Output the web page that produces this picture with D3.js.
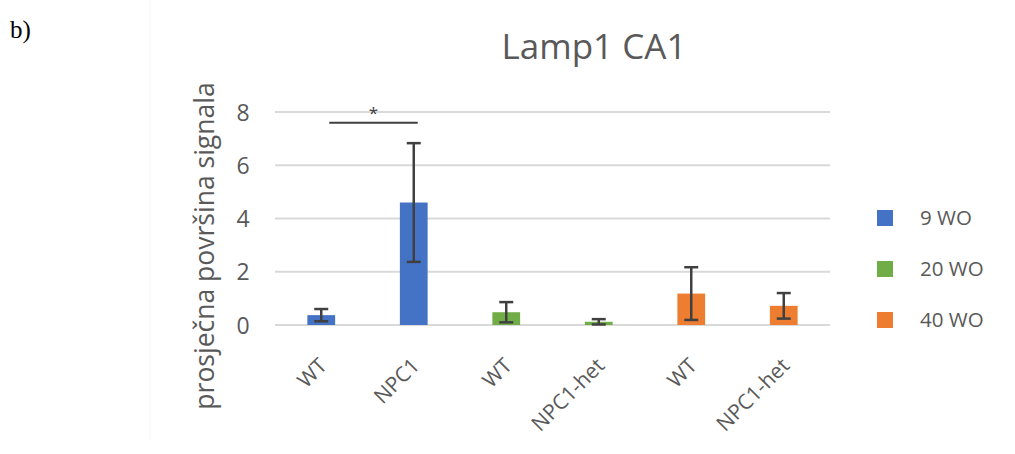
<!DOCTYPE html>
<html>
<head>
<meta charset="utf-8">
<script src="https://cdn.jsdelivr.net/npm/d3@7"></script>
<style>
  body { margin: 0; background: #fff; }
  text { font-family: "Open Sans", "Noto Sans", sans-serif; }
</style>
</head>
<body>
<div id="chart"></div>
<script>
// Data_____________________________________
const categories = ["WT", "NPC1", "WT", "NPC1-het", "WT", "NPC1-het"];
const groups = ["9 WO", "9 WO", "20 WO", "20 WO", "40 WO", "40 WO"];
const values = [0.37, 4.6, 0.48, 0.12, 1.18, 0.72];
const errors = [0.23, 2.23, 0.38, 0.1, 0.99, 0.48];
const yTicks = [0, 2, 4, 6, 8];
const legendLabels = ["9 WO", "20 WO", "40 WO"];
const legendColors = ["#4472C4", "#70AD47", "#ED7D31"];

const width = 1015;
const height = 454;
const plot = {left: 275, right: 830, top: 112, bottom: 325};

const svg = d3.select('#chart')
    .append('svg')
    .attr('width', width)
    .attr('height', height);

// faint chart area border
svg.append('line')
    .attr('x1', 150).attr('x2', 150)
    .attr('y1', 0).attr('y2', 440)
    .attr('stroke', '#f5f5f5');

svg.append('text')
    .attr('x', 10).attr('y', 38)
    .style('font-family', '"Liberation Serif", serif')
    .style('font-size', '25px')
    .attr('fill', '#000')
    .text('b)');

// Scales_____________________________________
const xScale = d3.scaleBand()
    .domain(d3.range(categories.length))
    .range([plot.left, plot.right])
    .paddingInner(0.7)
    .paddingOuter(0.35);
const yScale = d3.scaleLinear()
    .domain([0, 8])
    .range([plot.bottom, plot.top]);
const color = d3.scaleOrdinal().domain(legendLabels).range(legendColors);

// Gridlines
svg.append('g')
    .selectAll('line')
    .data(yTicks)
    .enter()
    .append('line')
    .attr('x1', plot.left)
    .attr('x2', plot.right)
    .attr('y1', d => yScale(d))
    .attr('y2', d => yScale(d))
    .attr('stroke', '#d9d9d9')
    .attr('stroke-width', 2);

// Y axis
const yAxis = d3.axisLeft(yScale).tickValues(yTicks).tickSize(0).tickPadding(0);
const yg = svg.append('g')
    .attr('transform', `translate(243, 0)`)
    .call(yAxis);
yg.select('.domain').remove();
yg.selectAll('text')
    .style('font-size', '23px')
    .attr('fill', '#595959')
    .attr('text-anchor', 'middle')
    .attr('dy', '0.35em');

// X axis
const xAxis = d3.axisBottom(xScale).tickSize(0).tickFormat(i => categories[i]);
const xg = svg.append('g')
    .attr('transform', `translate(0, ${plot.bottom})`)
    .call(xAxis);
xg.select('.domain').remove();
xg.selectAll('text')
    .style('font-size', '21px')
    .attr('fill', '#595959')
    .attr('text-anchor', 'end')
    .attr('dy', 0)
    .attr('y', 0)
    .attr('transform', 'translate(7, 42) rotate(-45)');

// Bars
svg.append('g')
    .selectAll('rect')
    .data(values)
    .enter()
    .append('rect')
    .attr('x', (d, i) => xScale(i))
    .attr('y', d => yScale(d))
    .attr('width', xScale.bandwidth())
    .attr('height', d => yScale(0) - yScale(d))
    .attr('fill', (d, i) => color(groups[i]));

// Error bars
const eg = svg.append('g')
    .attr('stroke', '#404040')
    .attr('stroke-width', 2.5);
values.forEach((v, i) => {
    const cx = xScale(i) + xScale.bandwidth() / 2;
    const lo = Math.max(0, v - errors[i]);
    const hi = v + errors[i];
    eg.append('line').attr('x1', cx).attr('x2', cx).attr('y1', yScale(lo)).attr('y2', yScale(hi));
    eg.append('line').attr('x1', cx - 7).attr('x2', cx + 7).attr('y1', yScale(lo)).attr('y2', yScale(lo));
    eg.append('line').attr('x1', cx - 7).attr('x2', cx + 7).attr('y1', yScale(hi)).attr('y2', yScale(hi));
});

// Significance bracket
const sx1 = xScale(0) + xScale.bandwidth() / 2 + 8;
const sx2 = xScale(1) + xScale.bandwidth() / 2 + 4;
svg.append('line')
    .attr('x1', sx1).attr('x2', sx2)
    .attr('y1', yScale(7.6)).attr('y2', yScale(7.6))
    .attr('stroke', '#404040')
    .attr('stroke-width', 2);
svg.append('text')
    .attr('x', (sx1 + sx2) / 2)
    .attr('y', yScale(7.6) - 4)
    .attr('text-anchor', 'middle')
    .style('font-size', '17px')
    .attr('fill', '#404040')
    .text('*');

// Title
svg.append('text')
    .attr('x', 594)
    .attr('y', 59)
    .attr('text-anchor', 'middle')
    .style('font-size', '35px')
    .attr('fill', '#595959')
    .text('Lamp1 CA1');

// Y label
svg.append('text')
    .attr('transform', `translate(214, 246) rotate(-90)`)
    .attr('text-anchor', 'middle')
    .style('font-size', '26.5px')
    .attr('fill', '#595959')
    .text('prosječna površina signala');

// Legend
const lg = svg.append('g')
    .selectAll('g')
    .data(legendLabels)
    .enter()
    .append('g')
    .attr('transform', (d, i) => `translate(877, ${218 + i * 51})`);
lg.append('rect')
    .attr('x', 0).attr('y', -8)
    .attr('width', 16).attr('height', 16)
    .attr('fill', d => color(d));
lg.append('text')
    .attr('x', 43).attr('y', 0)
    .attr('dy', '0.35em')
    .style('font-size', '20.5px')
    .attr('fill', '#595959')
    .text(d => d);
</script>
</body>
</html>
